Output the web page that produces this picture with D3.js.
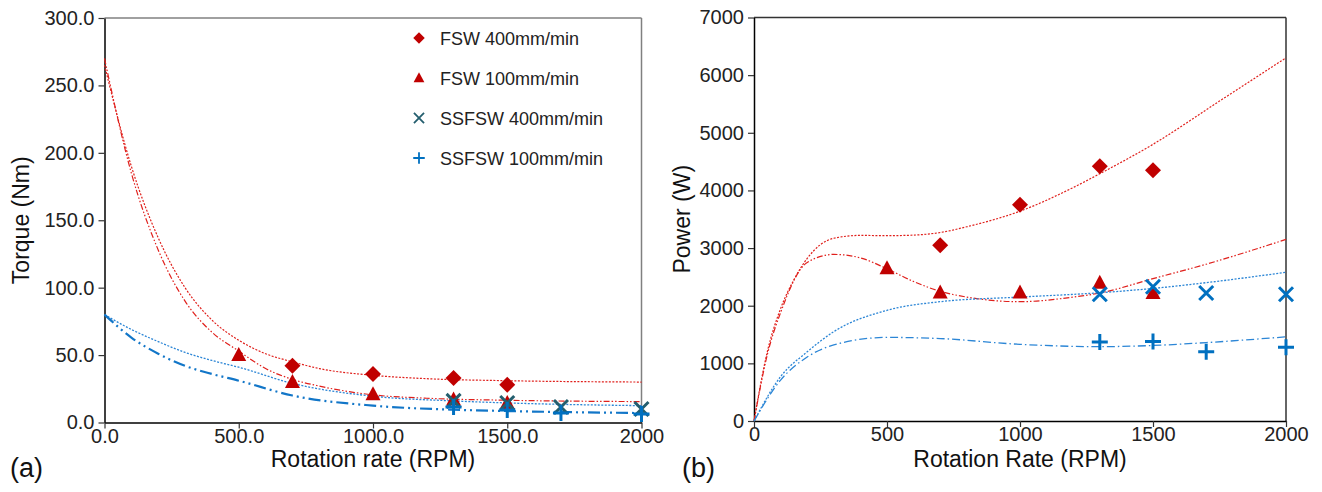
<!DOCTYPE html>
<html>
<head>
<meta charset="utf-8">
<script src="https://cdn.jsdelivr.net/npm/d3@7"></script>
<style>
  body { margin: 0; background: #fff; }
  svg, svg text { font-family: 'Liberation Sans', Arial, sans-serif; }
</style>
</head>
<body>
<svg id="chart" width="1322" height="492"></svg>
<script>
// ---- data: torque (a) ----
const torqueFsw400 = [[700, 42], [1000, 36], [1300, 33], [1500, 28]];
const torqueFsw100 = [[500, 50], [700, 30], [1000, 21], [1300, 17], [1500, 14.5]];
const torqueSs400 = [[1300, 16], [1500, 14.5], [1700, 11.5], [2000, 10]];
const torqueSs100 = [[1300, 11.5], [1500, 9.3], [1700, 7], [2000, 6.3]];

// trend lines
const torqueFsw400Fit = [[0, 265], [100, 190], [200, 137], [300, 100], [400, 76], [500, 61], [600, 51], [700, 45], [800, 40], [1000, 35], [1200, 32.5], [1500, 31], [2000, 30]];
const torqueFsw100Fit = [[0, 270], [100, 185], [200, 128], [300, 90], [400, 67], [500, 53], [600, 40], [700, 32], [800, 27], [1000, 20.5], [1200, 18], [1500, 16.5], [2000, 15.5]];
const torqueSs400Fit = [[0, 80], [100, 69], [200, 60], [300, 52], [400, 46], [500, 41], [700, 29], [1000, 19.5], [1300, 16], [1500, 14.5], [2000, 12.5]];
const torqueSs100Fit = [[0, 80], [100, 63], [200, 51], [300, 42], [400, 36], [500, 31], [700, 20], [1000, 12.5], [1300, 9.5], [1500, 8.5], [2000, 7]];

// ---- data: power (b) ----
const powerFsw400 = [[700, 3050], [1000, 3750], [1300, 4420], [1500, 4350]];
const powerFsw100 = [[500, 2650], [700, 2230], [1000, 2230], [1300, 2400], [1500, 2220]];
const powerSs400 = [[1300, 2200], [1500, 2330], [1700, 2220], [2000, 2200]];
const powerSs100 = [[1300, 1370], [1500, 1380], [1700, 1200], [2000, 1280]];

const powerFsw400Fit = [[0, 0], [50, 1200], [100, 1950], [150, 2450], [200, 2820], [250, 3060], [300, 3170], [400, 3220], [500, 3215], [600, 3225], [700, 3270], [800, 3370], [1000, 3640], [1200, 4050], [1300, 4290], [1500, 4800], [1750, 5550], [2000, 6300]];
const powerFsw100Fit = [[0, 0], [50, 1150], [100, 1880], [200, 2750], [300, 2890], [400, 2830], [500, 2640], [600, 2420], [700, 2250], [800, 2150], [1000, 2070], [1200, 2150], [1300, 2220], [1500, 2470], [1700, 2720], [2000, 3150]];
const powerSs400Fit = [[0, 0], [100, 770], [200, 1200], [300, 1550], [500, 1920], [700, 2070], [1000, 2150], [1300, 2225], [1500, 2300], [1700, 2400], [2000, 2580]];
const powerSs100Fit = [[0, 0], [100, 710], [200, 1110], [300, 1320], [500, 1450], [700, 1430], [1000, 1330], [1300, 1290], [1500, 1310], [1700, 1360], [2000, 1460]];

const legendNames = ["FSW 400mm/min", "FSW 100mm/min", "SSFSW 400mm/min", "SSFSW 100mm/min"];
const torqueTicks = [0, 50, 100, 150, 200, 250, 300];
const powerTicks = [0, 1000, 2000, 3000, 4000, 5000, 6000, 7000];
const rpmTicks = [0, 500, 1000, 1500, 2000];

const RED = "#c00000", TEAL = "#245e6e", BLUE = "#0070c0";

const svg = d3.select("#chart");

function markers(g, x, y, data, kind, color, s) {
    s = s || 1;
    const sel = g.selectAll(null).data(data).enter().append("g")
        .attr("transform", d => "translate(" + x(d[0]) + "," + y(d[1]) + ") scale(" + s + ")");
    if (kind === "diamond") {
        sel.append("path").attr("d", "M0,-8L8,0L0,8L-8,0Z").attr("fill", color);
    } else if (kind === "triangle") {
        sel.append("path").attr("d", "M0,-8L7.5,6L-7.5,6Z").attr("fill", color);
    } else if (kind === "x") {
        sel.append("path").attr("d", "M-7,-7L7,7M-7,7L7,-7")
            .attr("stroke", color).attr("stroke-width", 3 / s * (s < 1 ? 0.6 : 1)).attr("fill", "none");
    } else {
        sel.append("path").attr("d", "M-8,0L8,0M0,-8L0,8")
            .attr("stroke", color).attr("stroke-width", 3 / s * (s < 1 ? 0.6 : 1)).attr("fill", "none");
    }
}

function trend(g, x, y, data, color, dash, width) {
    const line = d3.line().x(d => x(d[0])).y(d => y(d[1])).curve(d3.curveMonotoneX);
    g.append("path").datum(data).attr("d", line)
        .attr("fill", "none").attr("stroke", color)
        .attr("stroke-width", width).attr("stroke-dasharray", dash);
}

function panel(opts) {
    const x = d3.scaleLinear().domain([0, 2000]).range([opts.left, opts.right]);
    const y = d3.scaleLinear().domain([0, opts.ymax]).range([opts.bottom, opts.top]);
    const g = svg.append("g");

    // frame
    g.append("line").attr("x1", opts.left).attr("x2", opts.right)
        .attr("y1", opts.top).attr("y2", opts.top).attr("stroke", opts.frame).attr("stroke-width", 1.5);
    g.append("line").attr("x1", opts.right).attr("x2", opts.right)
        .attr("y1", opts.top).attr("y2", opts.bottom).attr("stroke", opts.frame).attr("stroke-width", 1.5);

    const yAxis = g.append("g").attr("transform", "translate(" + opts.left + ",0)")
        .call(d3.axisLeft(y).tickValues(opts.yTicks).tickFormat(opts.yFmt).tickSize(6).tickSizeOuter(0));
    const xAxis = g.append("g").attr("transform", "translate(0," + opts.bottom + ")")
        .call(d3.axisBottom(x).tickValues(rpmTicks).tickFormat(opts.xFmt).tickSize(6).tickSizeOuter(0));
    [yAxis, xAxis].forEach(a => {
        a.attr("font-family", null).attr("font-size", null);
        a.select(".domain").attr("stroke", "#000").attr("stroke-width", 1.5);
        a.selectAll(".tick line").attr("stroke", "#333").attr("stroke-width", 1.2);
        a.selectAll("text").attr("font-size", 20).attr("fill", "#222");
    });
    yAxis.selectAll("text").attr("x", -10);
    xAxis.selectAll("text").attr("y", 6);

    const plot = g.append("g");
    opts.fits.forEach(f => trend(plot, x, y, f[0], f[1], f[2], f[3]));
    opts.series.forEach(s => markers(plot, x, y, s[0], s[1], s[2]));

    g.append("text").attr("x", (opts.left + opts.right) / 2).attr("y", 467)
        .attr("text-anchor", "middle").attr("font-size", 23).attr("fill", "#111").text(opts.xTitle);
    g.append("text").attr("transform", "translate(" + opts.yTitleX + "," + (opts.top + opts.bottom) / 2 + ") rotate(-90)")
        .attr("text-anchor", "middle").attr("font-size", 23).attr("fill", "#111").text(opts.yTitle);
    g.append("text").attr("x", opts.tagX).attr("y", 477)
        .attr("font-size", 27).attr("fill", "#111").text(opts.tag);
    return {x, y, g};
}

const a = panel({
    left: 104.5, right: 641.5, top: 18, bottom: 422.5, ymax: 300,
    yTicks: torqueTicks, yFmt: d3.format(".1f"),
    xFmt: d => d === 2000 ? "2000" : d3.format(".1f")(d),
    frame: "#808080",
    fits: [
        [torqueFsw400Fit, "#e0201c", "2,1.5", 1.2],
        [torqueFsw100Fit, "#e0201c", "6,2,1.5,2,1.5,2", 1.2],
        [torqueSs400Fit, "#2c86d6", "2,1.5", 1.3],
        [torqueSs100Fit, "#1276c8", "12,4,2,4,2,4", 2.2]
    ],
    series: [
        [torqueFsw400, "diamond", RED],
        [torqueFsw100, "triangle", RED],
        [torqueSs400, "x", TEAL],
        [torqueSs100, "plus", BLUE]
    ],
    xTitle: "Rotation rate (RPM)", yTitle: "Torque (Nm)", yTitleX: 29,
    tag: "(a)", tagX: 10
});

// legend for (a)
const legendKinds = [["diamond", RED], ["triangle", RED], ["x", TEAL], ["plus", BLUE]];
const lg = svg.append("g");
legendNames.forEach((name, i) => {
    const row = lg.append("g").attr("transform", "translate(0," + (38 + i * 40) + ")");
    const k = legendKinds[i];
    markers(row, d => 419, d => 0, [[0, 0]], k[0], k[1], 0.72);
    row.append("text").attr("x", 440).attr("y", 6.5).attr("font-size", 18)
        .attr("fill", "#222").text(name);
});

const b = panel({
    left: 754, right: 1286, top: 17.5, bottom: 421, ymax: 7000,
    yTicks: powerTicks, yFmt: d3.format("d"), xFmt: d3.format("d"),
    frame: "#333",
    fits: [
        [powerFsw400Fit, "#e0201c", "2,1.5", 1.2],
        [powerFsw100Fit, "#e0201c", "6,2,1.5,2,1.5,2", 1.2],
        [powerSs400Fit, "#2c86d6", "2,1.5", 1.3],
        [powerSs100Fit, "#2c86d6", "8,3,1.5,3", 1.3]
    ],
    series: [
        [powerFsw400, "diamond", RED],
        [powerFsw100, "triangle", RED],
        [powerSs400, "x", BLUE],
        [powerSs100, "plus", BLUE]
    ],
    xTitle: "Rotation Rate (RPM)", yTitle: "Power (W)", yTitleX: 690,
    tag: "(b)", tagX: 682
});
</script>
</body>
</html>
